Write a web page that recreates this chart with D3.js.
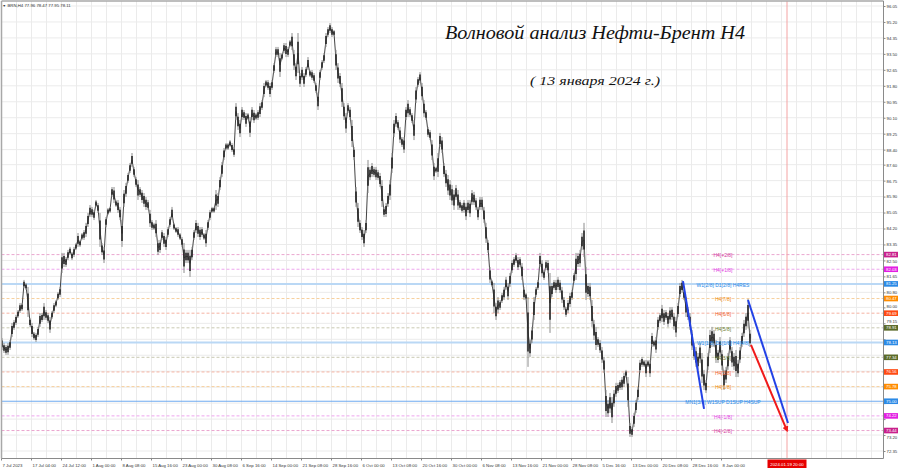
<!DOCTYPE html>
<html><head><meta charset="utf-8">
<script src="https://cdn.jsdelivr.net/npm/d3@7"></script>
<style>body{margin:0;background:#fff;} svg{display:block;}</style>
</head><body><svg id="c" width="900" height="468"></svg>
<script>
// ---------- DATA ----------
const highs = [
78.37,78.10,78.00,78.10,78.26,79.17,79.33,79.60,79.86,80.23,
80.23,81.46,81.30,81.09,79.44,79.17,78.69,78.64,78.96,79.70,
79.70,80.23,79.86,79.70,79.49,79.81,80.23,80.39,80.82,81.09,
82.90,82.90,82.68,83.06,83.22,82.95,83.22,83.43,83.96,83.59,
83.96,84.12,84.50,85.03,85.45,85.35,85.19,85.72,85.56,85.03,
83.43,83.22,84.81,85.29,85.35,86.41,86.41,85.72,85.72,85.35,
84.65,86.25,86.63,87.16,87.69,88.22,87.48,86.94,86.78,86.41,
86.25,86.09,85.88,85.72,85.19,84.65,84.50,84.65,83.59,83.59,
84.12,83.96,83.75,84.28,84.81,85.35,84.50,84.28,84.28,83.96,
83.75,83.43,83.06,83.06,83.06,83.22,84.12,84.65,84.50,84.28,
84.28,83.96,84.12,84.65,85.19,85.35,85.35,86.25,86.09,86.94,
87.74,88.49,88.75,88.75,88.91,88.75,88.54,90.88,90.35,89.98,
90.67,90.51,90.35,90.35,90.14,90.67,90.51,90.35,90.51,90.88,
91.04,91.95,92.11,92.11,91.95,92.11,93.01,93.87,93.87,93.55,
93.55,94.08,94.08,93.87,94.24,94.61,93.71,93.01,94.61,92.48,
92.80,92.48,92.80,93.33,92.64,92.64,92.48,91.95,91.42,92.64,
93.17,93.55,94.61,94.93,95.14,94.93,94.77,93.71,93.01,92.48,
91.95,90.88,90.35,90.88,90.67,89.98,88.54,86.41,85.56,84.65,
84.28,84.12,84.65,87.85,87.48,87.69,87.48,87.48,87.32,87.16,
86.78,85.35,85.56,86.09,86.78,88.22,89.98,90.35,89.98,89.61,
89.07,89.07,90.67,91.04,90.67,90.35,89.98,91.74,92.27,92.53,
91.95,91.04,90.51,89.61,89.45,88.91,87.69,87.48,88.22,89.29,
89.07,87.69,87.32,87.05,86.78,86.52,86.25,86.52,86.25,85.72,
85.56,85.72,85.56,85.72,85.72,86.25,86.15,85.83,85.35,85.88,
85.88,85.35,84.50,83.59,82.15,81.46,81.30,80.23,80.55,80.39,
80.77,81.09,81.62,81.30,81.83,82.52,82.68,82.90,82.68,82.68,
82.36,81.09,80.77,80.55,78.26,78.96,80.55,81.09,81.46,82.90,
82.52,81.99,82.52,82.52,81.83,81.30,81.46,81.46,81.62,81.46,
81.09,80.55,80.02,80.39,80.77,80.93,81.83,82.90,82.90,83.06,
83.96,84.50,82.15,81.30,81.30,80.39,79.33,78.96,78.42,78.26,
77.89,77.36,75.60,75.07,75.44,75.23,75.60,75.98,75.98,76.13,
76.29,76.51,76.67,76.29,73.84,73.63,74.38,75.07,75.76,77.20,
77.36,77.20,77.20,77.20,77.20,78.64,78.26,78.42,79.49,79.70,
80.13,79.86,79.86,79.70,80.02,80.02,79.70,79.49,80.23,81.30,
81.46,80.93,80.55,80.02,79.70,78.80,78.10,77.89,77.57,78.10,
77.57,76.67,76.13,77.57,78.80,78.96,78.80,78.26,77.73,78.42,
77.73,76.67,76.83,77.57,78.42,77.89,77.57,77.73,77.20,77.89,
78.64,79.33,79.70,80.45,78.80];
const lows = [
77.73,77.57,77.47,77.47,77.73,78.42,78.80,79.06,79.44,79.70,
79.81,81.03,80.93,79.49,78.96,78.42,78.26,78.16,78.42,78.96,
79.22,79.33,79.33,79.17,78.64,79.38,79.70,80.02,80.39,80.55,
81.83,82.15,82.15,82.52,82.79,82.52,82.68,83.06,83.22,83.22,
83.59,83.59,83.75,84.28,84.81,84.81,84.65,85.35,85.03,83.22,
82.79,82.36,84.28,84.92,85.03,85.88,85.56,85.35,85.03,84.65,
83.22,85.35,85.88,86.63,87.16,87.48,86.94,86.41,85.72,85.88,
85.56,85.35,85.19,85.19,84.28,84.12,84.12,83.75,82.79,82.90,
83.59,83.22,83.06,83.75,84.28,84.65,84.12,83.96,83.75,83.59,
83.22,81.83,82.36,82.36,81.62,82.52,83.59,83.96,83.75,83.59,
83.75,83.59,83.22,84.12,84.65,85.03,85.03,85.19,85.35,86.25,
86.94,87.85,88.38,88.38,88.54,88.28,88.01,89.98,89.45,89.07,
89.98,89.98,89.61,89.98,89.07,89.98,89.82,89.98,89.98,90.14,
90.51,91.20,91.74,91.58,91.20,91.58,92.48,93.33,93.33,92.27,
93.17,93.55,93.33,93.33,93.87,93.71,92.64,92.11,92.48,91.74,
92.11,91.74,92.27,92.64,92.27,92.11,91.95,91.42,90.51,92.11,
92.64,93.01,93.87,94.40,94.61,94.40,94.45,92.64,91.95,91.74,
90.67,89.98,89.29,90.35,89.98,88.54,87.85,85.35,84.28,83.96,
83.59,83.22,83.96,86.09,86.78,86.94,86.94,86.78,86.78,86.41,
85.35,84.81,84.81,85.35,85.72,87.16,89.07,89.61,89.45,88.75,
88.54,88.22,89.98,90.14,90.14,89.82,88.91,90.88,91.74,91.95,
91.04,90.14,89.98,89.07,88.91,87.85,86.78,87.16,86.94,88.54,
88.22,86.94,86.41,85.99,85.72,85.45,85.19,85.72,85.19,85.19,
85.03,85.03,84.65,85.03,84.81,85.45,85.45,85.19,84.65,85.19,
85.19,84.50,83.43,82.90,81.30,81.09,79.70,79.33,79.70,79.86,
80.23,80.39,80.93,80.39,81.09,81.83,82.15,82.36,81.99,82.15,
81.46,80.39,80.39,76.83,77.36,78.10,79.33,80.55,80.93,82.15,
81.62,81.46,81.99,81.83,78.64,80.55,80.93,80.77,80.93,80.77,
80.23,79.86,79.49,79.70,80.02,80.39,81.30,81.46,82.15,82.15,
83.06,82.68,80.39,80.55,80.39,78.96,78.26,77.73,77.89,77.57,
77.04,76.51,74.16,74.16,74.38,73.84,74.70,75.23,75.44,75.60,
75.60,75.76,76.29,74.70,73.10,73.10,73.63,74.38,75.07,76.51,
76.83,76.83,76.29,76.83,76.29,77.89,77.89,77.57,78.80,79.17,
79.22,79.06,79.33,78.96,79.17,79.33,78.80,78.42,79.49,80.55,
80.77,80.39,79.49,79.33,78.80,77.73,77.20,76.83,76.67,77.04,
75.97,75.60,75.44,76.67,77.57,77.89,77.89,77.04,77.04,77.36,
76.67,75.60,75.97,76.67,77.57,76.83,76.67,76.29,76.29,77.04,
77.89,78.42,78.80,78.96,77.89];

const yTicks = [96.05,95.20,94.35,93.50,92.65,91.80,90.95,90.10,89.25,88.40,87.60,86.75,85.90,85.05,84.20,83.35,82.50,81.65,80.80,80.00,79.15,78.30,77.45,76.60,75.75,74.90,74.05,73.20,72.35];
const timeLabels = ["7 Jul 2023","17 Jul 04:00","24 Jul 12:00","1 Aug 00:00","8 Aug 08:00","15 Aug 16:00","23 Aug 00:00","30 Aug 08:00","6 Sep 16:00","14 Sep 00:00","21 Sep 08:00","28 Sep 16:00","6 Oct 00:00","13 Oct 08:00","20 Oct 16:00","30 Oct 00:00","6 Nov 08:00","13 Nov 16:00","21 Nov 00:00","28 Nov 08:00","5 Dec 16:00","13 Dec 00:00","20 Dec 08:00","28 Dec 16:00","8 Jan 00:00"];
const levelValues = [82.81,82.03,81.25,80.47,79.69,78.91,78.13,77.34,76.56,75.78,75.00,74.22,73.44];
const levelNames = ["H4[+2/8]","H4[+1/8]","W1[2/8] D1[2/8] H4RES","H4[7/8]","H4[6/8]","H4[5/8]","W1[1/8] D1[1/8] H4[4/8]","H4[3/8]","H4[2/8]","H4[1/8]","MN1[3/8] W1SUP D1SUP H4SUP","H4[-1/8]","H4[-2/8]"];
const headerText = ["BRN,H4","77.96","78.47","77.95","78.11"];
// wave lines: [slotStart, priceStart, slotEnd, priceEnd]
const waveLines = [[340.5,81.40,351,74.59],[373,80.39,393,73.84]];
const forecast = [374.5,78.00,392.5,73.44];
const nowSlot = 392.5, nowLabel = "2024.01.19 20:00";
const titleText = "Волновой анализ Нефти-Брент Н4";
const subtitleText = "( 13 января 2024 г.)";

// ---------- STYLES ----------
const levelStyles = [
 {line:"#eba6cf",dash:"3,2",w:1,box:"#c9208c",txt:"#d2399c"},
 {line:"#eea6ee",dash:"3,2",w:1,box:"#e21fe2",txt:"#e040e0"},
 {line:"#bad8f5",dash:null,w:2,box:"#2b8ae6",txt:"#2b8ae6"},
 {line:"#f7cf9c",dash:"3,2",w:1,box:"#ff8c00",txt:"#f08a10"},
 {line:"#f5b3a2",dash:"3,2",w:1,box:"#ff4a12",txt:"#f0602c"},
 {line:"#c9c9b2",dash:"3,2",w:1,box:"#5b6b29",txt:"#6b7d30"},
 {line:"#bad8f5",dash:null,w:2,box:"#2b8ae6",txt:"#2b8ae6"},
 {line:"#c9c9b2",dash:"3,2",w:1,box:"#5b6b29",txt:"#6b7d30"},
 {line:"#f5b3a2",dash:"3,2",w:1,box:"#ff4a12",txt:"#f0602c"},
 {line:"#f7cf9c",dash:"3,2",w:1,box:"#ff8c00",txt:"#f08a10"},
 {line:"#6eaaf0",dash:null,w:1,box:"#2b8ae6",txt:"#2b8ae6"},
 {line:"#eea6ee",dash:"3,2",w:1,box:"#e21fe2",txt:"#e040e0"},
 {line:"#eba6cf",dash:"3,2",w:1,box:"#c9208c",txt:"#d2399c"}
];
const FONT = "Liberation Sans, Arial, sans-serif";
const FS = 4.3;

// ---------- CHART ----------
const svg = d3.select("#c");
const plotL = 1.5, plotR = 883.5, plotT = 1, plotB = 458.5;
const x = d3.scaleLinear().domain([0, highs.length - 1]).range([2, 750]);
const y = d3.scaleLinear().domain([72.35, 96.05]).range([451, 6]);

svg.append("rect").attr("width",900).attr("height",468).attr("fill","#fff");

// grid
const gridX = d3.range(0, 59).map(m => x(7.5 * m - 0.25)).filter(v => v < plotR);
svg.append("g").selectAll("line").data(gridX).join("line")
  .attr("x1", d => d).attr("x2", d => d).attr("y1", plotT).attr("y2", plotB)
  .attr("stroke", "#ebebeb").attr("stroke-width", 1);
svg.append("g").selectAll("line").data(yTicks).join("line")
  .attr("x1", plotL).attr("x2", plotR).attr("y1", d => y(d)).attr("y2", d => y(d))
  .attr("stroke", "#ebebeb").attr("stroke-width", 1);

// level lines
svg.append("g").selectAll("line").data(levelValues).join("line")
  .attr("x1", plotL).attr("x2", plotR)
  .attr("y1", d => y(d)).attr("y2", d => y(d))
  .attr("stroke", (d, i) => levelStyles[i].line)
  .attr("stroke-width", (d, i) => levelStyles[i].w)
  .attr("stroke-dasharray", (d, i) => levelStyles[i].dash);

// now line
svg.append("line").attr("x1", x(nowSlot)).attr("x2", x(nowSlot))
  .attr("y1", plotT).attr("y2", plotB).attr("stroke", "#f4a3a3").attr("stroke-width", 1);

// price bars
const cg = svg.append("g");
const mid = (i) => (highs[i] + lows[i]) / 2;
cg.append("path").datum(highs)
  .attr("d", d3.line().x((d, i) => x(i)).y((d, i) => y(mid(i))))
  .attr("fill", "none").attr("stroke", "#444").attr("stroke-width", 1);
cg.selectAll("line.w").data(highs).join("line").attr("class", "w")
  .attr("x1", (d, i) => x(i)).attr("x2", (d, i) => x(i))
  .attr("y1", d => y(d)).attr("y2", (d, i) => y(lows[i]))
  .attr("stroke", "#8c8c8c").attr("stroke-width", 1);
cg.selectAll("line.b").data(highs).join("line").attr("class", "b")
  .attr("x1", (d, i) => x(i)).attr("x2", (d, i) => x(i))
  .attr("y1", (d, i) => y(d - 0.22 * (d - lows[i])))
  .attr("y2", (d, i) => y(lows[i] + 0.22 * (d - lows[i])))
  .attr("stroke", "#1c1c1c").attr("stroke-width", 1.5);

// level labels
svg.append("g").selectAll("text").data(levelNames).join("text")
  .attr("x", x(360.5)).attr("y", (d, i) => y(levelValues[i]) + 1.5)
  .attr("text-anchor", "middle").attr("dominant-baseline", "middle")
  .attr("font-family", FONT).attr("font-size", 5)
  .attr("fill", (d, i) => levelStyles[i].txt).text(d => d);

// wave lines
svg.append("g").selectAll("line").data(waveLines).join("line")
  .attr("x1", d => x(d[0])).attr("y1", d => y(d[1]))
  .attr("x2", d => x(d[2])).attr("y2", d => y(d[3]))
  .attr("stroke", "#2342e6").attr("stroke-width", 2);
svg.append("defs").append("marker").attr("id", "ah")
  .attr("viewBox", "0 0 10 10").attr("refX", 7).attr("refY", 5)
  .attr("markerWidth", 3).attr("markerHeight", 3).attr("orient", "auto")
  .append("path").attr("d", "M0,0L10,5L0,10z").attr("fill", "#f01a1a");
svg.append("line")
  .attr("x1", x(forecast[0])).attr("y1", y(forecast[1]))
  .attr("x2", x(forecast[2])).attr("y2", y(forecast[3]))
  .attr("stroke", "#f01a1a").attr("stroke-width", 2).attr("marker-end", "url(#ah)");

// frame
svg.append("line").attr("x1", plotL).attr("x2", plotR).attr("y1", plotT).attr("y2", plotT).attr("stroke", "#a8a8a8").attr("stroke-width", 1.5);
svg.append("line").attr("x1", plotL).attr("x2", plotL).attr("y1", plotT).attr("y2", plotB).attr("stroke", "#a8a8a8").attr("stroke-width", 1.5);
svg.append("line").attr("x1", plotR).attr("x2", plotR).attr("y1", plotT).attr("y2", plotB).attr("stroke", "#8a8a8a");
svg.append("line").attr("x1", plotL).attr("x2", plotR).attr("y1", plotB).attr("y2", plotB).attr("stroke", "#8a8a8a");

// right axis (labels hidden behind level boxes are dropped, near ones nudged)
const boxYs = levelValues.map(v => y(v));
const nearest = (v) => { const ty = y(v); let best = null; boxYs.forEach(b => { if (best === null || Math.abs(ty - b) < Math.abs(ty - best)) best = b; }); return ty - best; };
const ya = d3.axisRight(y).tickValues(yTicks).tickSize(2).tickPadding(1).tickFormat(d3.format(".2f"));
svg.append("g").attr("transform", `translate(${plotR},0)`).call(ya)
  .call(g => g.select(".domain").remove())
  .call(g => g.selectAll("line").attr("stroke", "#888"))
  .call(g => g.selectAll("text").attr("font-size", FS).attr("font-family", FONT).attr("fill", "#333")
    .attr("display", d => Math.abs(nearest(d)) < 3.6 ? "none" : null)
    .attr("y", d => { const dy = nearest(d); const a = Math.abs(dy); return a < 6.6 ? Math.sign(dy) * (6.6 - a) : 0; }));

// bottom axis
const xa = d3.axisBottom(x).tickValues(timeLabels.map((t, k) => 15 * k - 0.5))
  .tickSize(2).tickPadding(3).tickFormat((d, i) => timeLabels[i]);
svg.append("g").attr("transform", `translate(0,${plotB})`).call(xa)
  .call(g => g.select(".domain").remove())
  .call(g => g.selectAll("line").attr("stroke", "#888"))
  .call(g => g.selectAll("text").attr("font-size", FS).attr("font-family", FONT)
    .attr("fill", "#333").attr("text-anchor", "start").attr("dx", 1));

// level price boxes on axis
const bg = svg.append("g");
bg.selectAll("rect").data(levelValues).join("rect")
  .attr("x", plotR + 0.5).attr("y", d => y(d) - 2.8).attr("width", 14).attr("height", 5.6)
  .attr("fill", (d, i) => levelStyles[i].box);
bg.selectAll("text").data(levelValues).join("text")
  .attr("x", plotR + 2.5).attr("y", d => y(d)).attr("dy", "0.35em")
  .attr("font-size", FS).attr("font-family", FONT).attr("fill", "#fff")
  .text(d => d3.format(".2f")(d));

// now label box
svg.append("rect").attr("x", x(nowSlot) - 19.5).attr("y", plotB + 1).attr("width", 39).attr("height", 9).attr("fill", "#e60000");
svg.append("text").attr("x", x(nowSlot)).attr("y", plotB + 7).attr("text-anchor", "middle")
  .attr("font-size", FS).attr("font-family", FONT).attr("fill", "#fff").text(nowLabel);

// header
svg.append("text").attr("x", 2.5).attr("y", 6.5).attr("font-size", 3.5).attr("font-family", FONT).attr("fill", "#333").text("▼");
svg.append("text").attr("x", 7.5).attr("y", 6.5).attr("font-size", FS).attr("font-family", FONT).attr("fill", "#333")
  .text(headerText[0] + "  " + headerText.slice(1).join(" "));

// titles
svg.append("text").attr("x", 445).attr("y", 39).attr("font-family", "Liberation Serif, serif")
  .attr("font-style", "italic").attr("font-size", 18).attr("fill", "#111")
  .attr("textLength", 300).attr("lengthAdjust", "spacingAndGlyphs").text(titleText);
svg.append("text").attr("x", 530).attr("y", 85).attr("font-family", "Liberation Serif, serif")
  .attr("font-style", "italic").attr("font-size", 13).attr("fill", "#111")
  .attr("textLength", 130).attr("lengthAdjust", "spacingAndGlyphs").text(subtitleText);
</script>
</body></html>
